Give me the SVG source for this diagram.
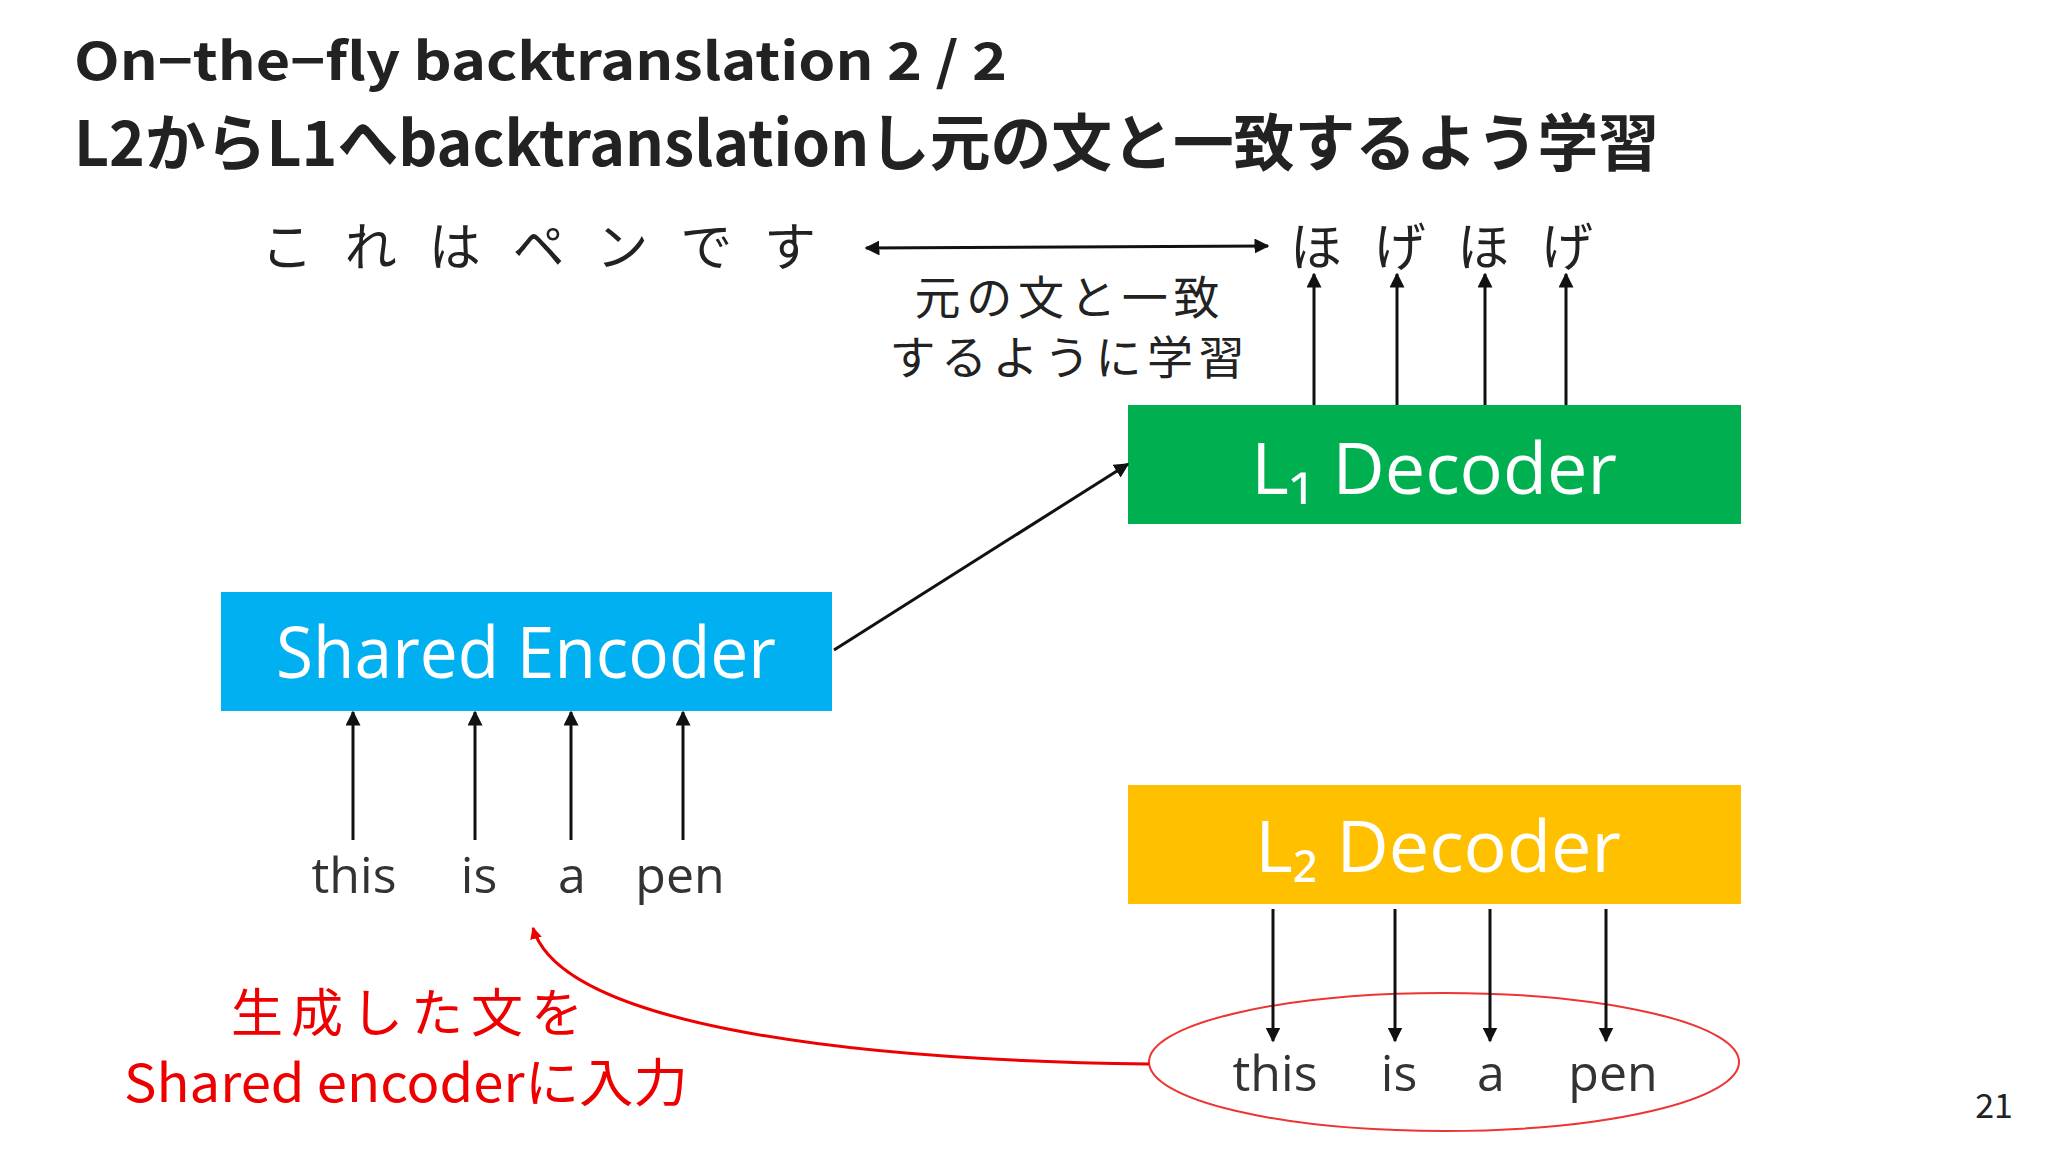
<svg xmlns="http://www.w3.org/2000/svg" width="2048" height="1152" viewBox="0 0 2048 1152">
<style>
.t{font-family:"Noto Sans CJK JP","Liberation Sans",sans-serif;fill:#222}
.b{font-family:"Open Sans","Liberation Sans",sans-serif;fill:#fff;font-size:72px;text-anchor:middle}
.w{font-family:"Open Sans","Liberation Sans",sans-serif;fill:#333;font-size:50px;text-anchor:middle}
.k{stroke:#111;stroke-width:3;fill:none}
</style>
<defs>
<marker id="a" viewBox="0 0 10 10" refX="9" refY="5" markerWidth="5" markerHeight="5" orient="auto-start-reverse"><path d="M0,0L10,5L0,10z" fill="#111"/></marker>
<marker id="r" viewBox="0 0 10 10" refX="9" refY="5" markerWidth="4" markerHeight="4" orient="auto"><path d="M0,0L10,5L0,10z" fill="#e00"/></marker>
</defs>
<rect width="2048" height="1152" fill="#fff"/>
<g id="title">
<text class="t" x="74" y="80" font-size="52" font-weight="bold" textLength="933" lengthAdjust="spacingAndGlyphs">On−the−fly backtranslation 2 / 2</text>
<text class="t" x="74" y="166" font-size="62" font-weight="bold" textLength="1585" lengthAdjust="spacingAndGlyphs">L2からL1へbacktranslationし元の文と一致するよう学習</text>
</g>
<g id="src"><text class="t" x="261" y="266" font-size="52" textLength="555">これはペンです</text></g>
<g id="hoge"><text class="t" x="1290" y="266" font-size="52" textLength="303">ほげほげ</text></g>
<g id="note"><text class="t" x="1067" y="314" font-size="46" text-anchor="middle" textLength="305">元の文と一致</text>
<text class="t" x="1067" y="374" font-size="46" text-anchor="middle" textLength="355">するように学習</text></g>
<g id="l1"><rect x="1128" y="405" width="613" height="119" fill="#00B050"/><text class="b" x="1434" y="494">L₁ Decoder</text></g>
<g id="enc"><rect x="221" y="592" width="611" height="119" fill="#00B0F0"/><text class="b" x="526" y="678" textLength="500" lengthAdjust="spacingAndGlyphs">Shared Encoder</text></g>
<g id="l2"><rect x="1128" y="785" width="613" height="119" fill="#FFC000"/><text class="b" x="1438" y="872">L₂ Decoder</text></g>
<g id="in"><text class="w" x="354" y="893">this</text><text class="w" x="479" y="893">is</text><text class="w" x="572" y="893">a</text><text class="w" x="680" y="893">pen</text></g>
<g id="out"><ellipse cx="1444" cy="1062" rx="295" ry="69" fill="none" stroke="#e33" stroke-width="2"/>
<text class="w" x="1275" y="1091">this</text><text class="w" x="1399" y="1091">is</text><text class="w" x="1491" y="1091">a</text><text class="w" x="1613" y="1091">pen</text></g>
<g id="redtext"><text class="t" x="407" y="1032" font-size="52" text-anchor="middle" textLength="352" style="fill:#e00">生成した文を</text>
<text class="t" x="406" y="1102" font-size="52" text-anchor="middle" textLength="564" lengthAdjust="spacingAndGlyphs" style="fill:#e00">Shared encoderに入力</text></g>
<text class="t" x="1994" y="1118" font-size="34" text-anchor="middle">21</text>
<g id="connectors">
<line class="k" x1="866" y1="248" x2="1268" y2="246" marker-start="url(#a)" marker-end="url(#a)"/>
<line class="k" x1="1314" y1="405" x2="1314" y2="274" marker-end="url(#a)"/>
<line class="k" x1="1397" y1="405" x2="1397" y2="274" marker-end="url(#a)"/>
<line class="k" x1="1485" y1="405" x2="1485" y2="274" marker-end="url(#a)"/>
<line class="k" x1="1566" y1="405" x2="1566" y2="274" marker-end="url(#a)"/>
<line class="k" x1="834" y1="650" x2="1128" y2="464" marker-end="url(#a)"/>
<line class="k" x1="353" y1="840" x2="353" y2="712" marker-end="url(#a)"/>
<line class="k" x1="475" y1="840" x2="475" y2="712" marker-end="url(#a)"/>
<line class="k" x1="571" y1="840" x2="571" y2="712" marker-end="url(#a)"/>
<line class="k" x1="683" y1="840" x2="683" y2="712" marker-end="url(#a)"/>
<line class="k" x1="1273" y1="909" x2="1273" y2="1041" marker-end="url(#a)"/>
<line class="k" x1="1395" y1="909" x2="1395" y2="1041" marker-end="url(#a)"/>
<line class="k" x1="1490" y1="909" x2="1490" y2="1041" marker-end="url(#a)"/>
<line class="k" x1="1606" y1="909" x2="1606" y2="1041" marker-end="url(#a)"/>
<path d="M1149,1064 C820,1060 560,1020 533,928" fill="none" stroke="#e00" stroke-width="3" marker-end="url(#r)"/>
</g>
</svg>
